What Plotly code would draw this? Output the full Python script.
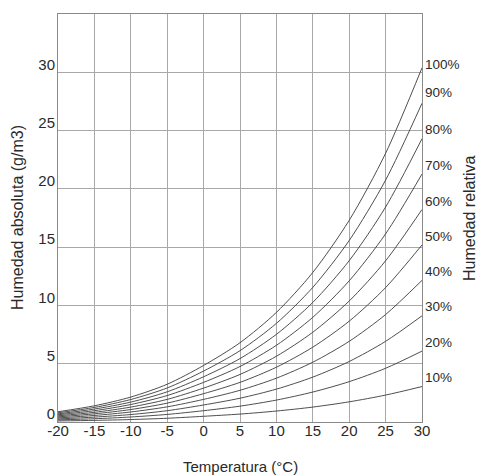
import plotly.graph_objects as go

# Temperature (°C)
temperatura = [-20, -15, -10, -5, 0, 5, 10, 15, 20, 25, 30]

# Absolute humidity (g/m3) read for each relative-humidity curve
hr_10 = [0.09, 0.14, 0.21, 0.32, 0.49, 0.68, 0.94, 1.28, 1.73, 2.31, 3.04]
hr_20 = [0.18, 0.28, 0.43, 0.65, 0.97, 1.36, 1.88, 2.57, 3.46, 4.61, 6.08]
hr_30 = [0.26, 0.42, 0.64, 0.97, 1.46, 2.04, 2.82, 3.85, 5.19, 6.92, 9.11]
hr_40 = [0.35, 0.56, 0.86, 1.30, 1.94, 2.72, 3.76, 5.13, 6.92, 9.22, 12.15]
hr_50 = [0.44, 0.70, 1.07, 1.62, 2.43, 3.40, 4.70, 6.42, 8.65, 11.53, 15.19]
hr_60 = [0.53, 0.83, 1.28, 1.94, 2.91, 4.08, 5.64, 7.70, 10.38, 13.83, 18.23]
hr_70 = [0.62, 0.97, 1.50, 2.27, 3.40, 4.76, 6.58, 8.98, 12.11, 16.14, 21.27]
hr_80 = [0.70, 1.11, 1.71, 2.59, 3.88, 5.44, 7.52, 10.26, 13.84, 18.44, 24.30]
hr_90 = [0.79, 1.25, 1.93, 2.92, 4.37, 6.12, 8.46, 11.55, 15.57, 20.75, 27.34]
hr_100 = [0.88, 1.39, 2.14, 3.24, 4.85, 6.80, 9.40, 12.83, 17.30, 23.05, 30.38]

series = [hr_10, hr_20, hr_30, hr_40, hr_50, hr_60, hr_70, hr_80, hr_90, hr_100]
curve_labels = ["10%", "20%", "30%", "40%", "50%", "60%", "70%", "80%", "90%", "100%"]
label_y = [3.8, 6.8, 9.9, 12.9, 15.9, 18.9, 22.0, 25.1, 28.3, 30.7]

x_ticks = [-20, -15, -10, -5, 0, 5, 10, 15, 20, 25, 30]
y_ticks = [0, 5, 10, 15, 20, 25, 30]

FONT = "Liberation Sans, Arial, sans-serif"
TEXT = "#2a2a2a"

fig = go.Figure()
for vals, name in zip(series, curve_labels):
    fig.add_trace(go.Scatter(
        x=temperatura, y=vals, mode="lines", name=name,
        line=dict(color="#3a3a3a", width=0.9, shape="spline", smoothing=0.8),
        showlegend=False, hoverinfo="x+y+name",
    ))

annotations = []
for name, yv in zip(curve_labels, label_y):
    annotations.append(dict(
        x=1, xref="paper", y=yv, yref="y", text=name, showarrow=False,
        xanchor="left", yanchor="middle", xshift=1,
        font=dict(family=FONT, size=13.5, color=TEXT),
    ))

annotations.append(dict(
    x=0.5, xref="paper", y=-0.11, yref="paper", text="Temperatura (°C)",
    showarrow=False, xanchor="center", yanchor="middle",
    font=dict(family=FONT, size=15, color=TEXT),
))
annotations.append(dict(
    x=0, xref="paper", y=0.5, yref="paper", text="Humedad absoluta (g/m3)",
    showarrow=False, xanchor="center", yanchor="middle", textangle=-90, xshift=-41,
    font=dict(family=FONT, size=16, color=TEXT),
))
annotations.append(dict(
    x=1, xref="paper", y=0.5, yref="paper", text="Humedad relativa",
    showarrow=False, xanchor="center", yanchor="middle", textangle=-90, xshift=47,
    font=dict(family=FONT, size=16, color=TEXT),
))

fig.update_layout(
    width=477, height=476,
    margin=dict(l=58, r=55, t=14, b=54),
    paper_bgcolor="white", plot_bgcolor="white",
    annotations=annotations,
    font=dict(family=FONT, size=15, color=TEXT),
)
fig.update_xaxes(
    range=[-20, 30], tickvals=x_ticks, ticktext=[str(v) for v in x_ticks],
    showgrid=True, gridcolor="#a8a8a8", gridwidth=1,
    showline=True, linecolor="#8a8a8a", linewidth=1, mirror=True,
    zeroline=False, ticks="", ticklabelstandoff=-5,
    tickfont=dict(family=FONT, size=15, color=TEXT),
)
fig.update_yaxes(
    range=[0, 35], tickvals=y_ticks, ticktext=[str(v) for v in y_ticks],
    showgrid=True, gridcolor="#a8a8a8", gridwidth=1,
    showline=True, linecolor="#8a8a8a", linewidth=1, mirror=True,
    zeroline=False, ticks="", ticklabelshift=-8, ticklabelstandoff=-1,
    tickfont=dict(family=FONT, size=15, color=TEXT),
)

# remove the page's default body margin so the 477x476 figure fills the window exactly
fig.write_html(
    "out.html",
    config={"displayModeBar": False},
    post_script="document.body.style.margin='0';document.body.style.overflow='hidden';",
)
